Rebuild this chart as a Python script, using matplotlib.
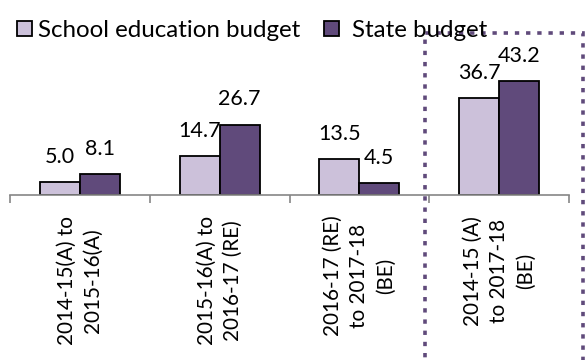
import matplotlib
matplotlib.use("Agg")
import matplotlib.pyplot as plt
from matplotlib.patches import Patch, Rectangle
import numpy as np

# ---------------- data ----------------
categories = [
    "2014-15(A) to\n2015-16(A)",
    "2015-16(A) to\n2016-17 (RE)",
    "2016-17 (RE)\nto 2017-18\n(BE)",
    "2014-15 (A)\nto 2017-18\n(BE)",
]
school_edu = [5.0, 14.7, 13.5, 36.7]
state_budget = [8.1, 26.7, 4.5, 43.2]
series_names = ["School education budget", "State budget"]

LIGHT = "#CCC1DA"
DARK = "#604A7B"
GREY = "#868686"
FONT = "Lato"

plt.rcParams["font.family"] = [FONT, "DejaVu Sans"]

W, H = 586, 360
fig = plt.figure(figsize=(W / 100, H / 100), dpi=100)
ax = fig.add_axes([10 / W, 1 - 195 / H, 559 / W, 132 / H])

x = np.arange(len(categories))
bw = 0.286
b1 = ax.bar(x - bw / 2, school_edu, bw, color=LIGHT, edgecolor="black", linewidth=1.3)
b2 = ax.bar(x + bw / 2, state_budget, bw, color=DARK, edgecolor="black", linewidth=1.3)

for bars, vals in ((b1, school_edu), (b2, state_budget)):
    for rect, v in zip(bars, vals):
        ax.annotate(f"{v:.1f}", (rect.get_x() + rect.get_width() / 2, rect.get_height()),
                    xytext=(0, 13.7), textcoords="offset points",
                    ha="center", va="baseline", fontsize=15.5, color="black")

ax.set_xlim(-0.5, len(categories) - 0.5)
ax.set_ylim(0, 50)
ax.set_yticks([])
for s in ("top", "right", "left"):
    ax.spines[s].set_visible(False)
ax.spines["bottom"].set_color(GREY)
ax.spines["bottom"].set_linewidth(1.2)

ax.set_xticks(x)
ax.set_xticklabels(categories, rotation=90, fontsize=14.9, linespacing=1.4)
ax.set_xticks(np.arange(len(categories) + 1) - 0.5, minor=True)
ax.tick_params(axis="x", which="major", length=0, pad=15)
ax.tick_params(axis="x", which="minor", length=5.8, width=1.2, color=GREY)

# legend: one entry per call so the gaps can differ like the original
legend_x = [17, 324]
text_pads = [0.21, 0.5]
for i, (name, col) in enumerate(zip(series_names, [LIGHT, DARK])):
    h = Patch(facecolor=col, edgecolor="black", linewidth=1.3)
    leg = fig.legend([h], [name], loc="upper left", bbox_to_anchor=(legend_x[i] / W, 1 - 20 / H),
                     frameon=False, fontsize=17.4, handlelength=0.64, handleheight=0.64,
                     handletextpad=text_pads[i], borderpad=0, borderaxespad=0)

box = Rectangle((425 / W, -0.1), (583 - 425) / W, 1.1 - 33.5 / H, transform=fig.transFigure,
                fill=False, edgecolor=DARK, linewidth=2.6, linestyle=(0, (1.2, 1.9)),
                clip_on=False)
box.set_capstyle("butt")
fig.add_artist(box)

fig.savefig("out.png", dpi=100)
